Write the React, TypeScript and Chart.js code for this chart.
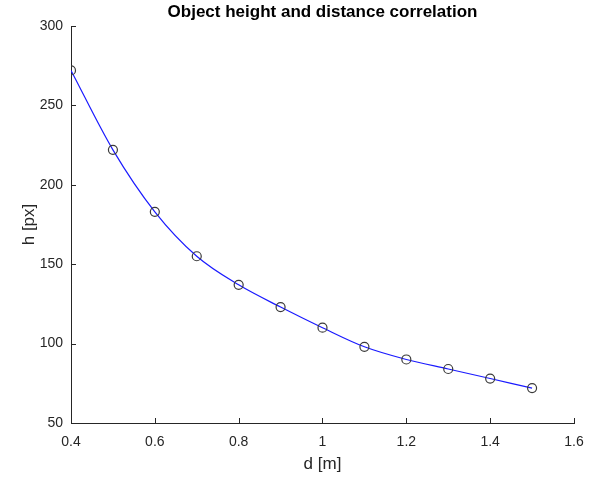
import React, { useEffect, useRef } from "react";
import { Chart, registerables } from "chart.js";

Chart.register(...registerables);

const distances = [0.4, 0.5, 0.6, 0.7, 0.8, 0.9, 1.0, 1.1, 1.2, 1.3, 1.4, 1.5];
const heights = [272, 222, 183, 155, 137, 123, 110, 98, 90, 84, 78, 72];
const xTicks = [0.4, 0.6, 0.8, 1.0, 1.2, 1.4, 1.6];
const yTicks = [50, 100, 150, 200, 250, 300];

const chartTitle = "Object height and distance correlation";
const xLabel = "d [m]";
const yLabel = "h [px]";

const AXIS = "#262626";
const FONT = "'Liberation Sans', Arial, Helvetica, sans-serif";

const PAD_LEFT = 19;
const PAD_RIGHT = 27;
const PAD_BOTTOM = 5;

const inwardTicks = {
  id: "inwardTicks",
  afterDraw(chart: any) {
    const { ctx, chartArea } = chart;
    const xs = chart.scales.x;
    const ys = chart.scales.y;
    const len = 5;
    ctx.save();
    ctx.strokeStyle = AXIS;
    ctx.lineWidth = 1;
    ctx.beginPath();
    xs.ticks.forEach((t: any) => {
      const px = Math.round(xs.getPixelForValue(t.value)) + 0.5;
      ctx.moveTo(px, chartArea.bottom);
      ctx.lineTo(px, chartArea.bottom - len);
    });
    ys.ticks.forEach((t: any) => {
      const py = Math.round(ys.getPixelForValue(t.value)) + 0.5;
      ctx.moveTo(chartArea.left, py);
      ctx.lineTo(chartArea.left + len, py);
    });
    ctx.stroke();
    ctx.restore();
  },
};

export default function App() {
  const ref = useRef<HTMLCanvasElement>(null);

  useEffect(() => {
    document.body.style.margin = "0";
    const canvas = ref.current!;
    const chart = new Chart(canvas, {
      type: "line",
      data: {
        datasets: [
          {
            data: distances.map((d, i) => ({ x: d, y: heights[i] })),
            borderColor: "#1a1aff",
            borderWidth: 1.2,
            cubicInterpolationMode: "monotone",
            pointRadius: 4.5,
            pointBorderColor: "#3a3a3a",
            pointBorderWidth: 1.2,
            pointBackgroundColor: "rgba(0,0,0,0)",
            fill: false,
          },
        ],
      },
      options: {
        responsive: false,
        animation: false,
        events: [],
        layout: { padding: { left: PAD_LEFT, right: PAD_RIGHT, top: 0, bottom: PAD_BOTTOM } },
        plugins: {
          legend: { display: false },
          tooltip: { enabled: false },
          title: {
            display: true,
            fullSize: false,
            text: chartTitle,
            color: "#000000",
            font: { family: FONT, size: 17, weight: "bold" },
            padding: { top: 2, bottom: 3.6 },
          },
        },
        scales: {
          x: {
            type: "linear",
            min: 0.4,
            max: 1.6,
            afterBuildTicks: (scale: any) => {
              scale.ticks = xTicks.map((v) => ({ value: v }));
            },
            afterFit: (scale: any) => {
              scale.height = 480 - 423 - PAD_BOTTOM;
            },
            grid: { display: false, drawTicks: false },
            border: { display: true, color: AXIS, width: 1 },
            ticks: {
              color: AXIS,
              font: { family: FONT, size: 14 },
              padding: 11,
              maxRotation: 0,
              callback: (v: any) => String(Number(Number(v).toFixed(1))),
            },
            title: {
              display: true,
              text: xLabel,
              color: AXIS,
              font: { family: FONT, size: 17 },
              padding: { top: 4, bottom: 0 },
            },
          },
          y: {
            type: "linear",
            min: 50,
            max: 300,
            afterBuildTicks: (scale: any) => {
              scale.ticks = yTicks.map((v) => ({ value: v }));
            },
            afterFit: (scale: any) => {
              scale.width = 71 - PAD_LEFT;
            },
            grid: { display: false, drawTicks: false },
            border: { display: true, color: AXIS, width: 1 },
            ticks: {
              color: AXIS,
              font: { family: FONT, size: 14 },
              padding: 8,
            },
            title: {
              display: true,
              text: yLabel,
              color: AXIS,
              font: { family: FONT, size: 17 },
              padding: { top: 0, bottom: 0 },
            },
          },
        },
      },
      plugins: [inwardTicks],
    });
    return () => chart.destroy();
  }, []);

  return <canvas ref={ref} width={601} height={480} style={{ display: "block" }} />;
}
